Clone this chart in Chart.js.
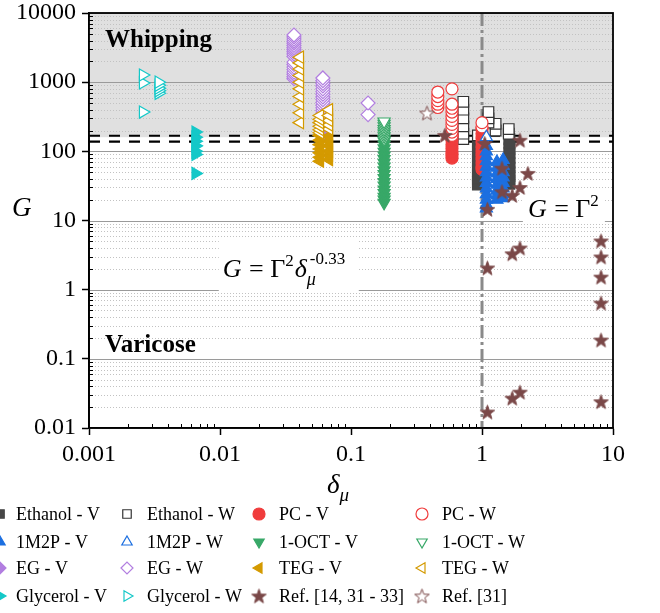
<!DOCTYPE html>
<html>
<head>
<meta charset="utf-8">
<script src="https://cdn.jsdelivr.net/npm/chart.js@4.4.1/dist/chart.umd.min.js"></script>
<style>
html,body{margin:0;padding:0;background:#fff;}
</style>
</head>
<body>
<canvas id="mycanvas" width="660" height="613"></canvas>
<script>
var serif = "'Liberation Serif', 'Times New Roman', serif";

// points are [delta_mu, G]
var ethanolV = [[0.93,140],[0.93,120],[0.93,100],[0.93,85],[0.93,72],[0.93,60],[0.93,52],[0.93,45],[0.93,40],[0.93,36],[0.93,33],
  [1.62,150],[1.62,130],[1.62,110],[1.62,95],[1.62,80],[1.62,68],[1.62,58],[1.62,50],[1.62,44],[1.62,38],[1.62,34]];
var ethanolW = [[0.72,520],[0.72,400],[0.72,300],[0.72,230],[0.72,180],[0.72,150],[0.93,170],
  [1.12,370],[1.12,300],[1.12,260],[1.27,250],[1.27,200],[1.6,210],[1.6,180]];
var pcV = [[0.59,165],[0.59,145],[0.59,125],[0.59,110],[0.59,98],[0.59,88],[0.59,80],
  [1.0,210],[1.0,180],[1.0,155],[1.0,135],[1.0,115],[1.0,100],[1.0,88],[1.0,77],[1.0,68],[1.0,60],[1.0,55]];
var pcW = [[0.46,720],[0.46,620],[0.46,540],[0.46,480],[0.46,430],
  [0.59,800],[0.59,480],[0.59,420],[0.59,370],[0.59,320],[0.59,280],[0.59,245],[0.59,215],[0.59,190],[0.59,170],
  [1.0,260],[1.0,225]];
var m1m2pV = [[1.08,120],[1.08,100],[1.08,85],[1.08,72],[1.08,60],[1.08,50],[1.08,42],[1.08,35],[1.08,29],[1.08,24],[1.08,20],[1.08,17],[1.08,15],
  [1.3,70],[1.3,58],[1.3,48],[1.3,40],[1.3,33],[1.3,27],[1.3,23],[1.3,20],
  [1.45,75],[1.45,62],[1.45,50],[1.45,42],[1.45,35],[1.45,29],[1.45,24],[1.45,21]];
var m1m2pW = [[1.08,160]];
var octV = [[0.179,140],[0.179,125],[0.179,110],[0.179,98],[0.179,87],[0.179,77],[0.179,68],[0.179,60],[0.179,53],
  [0.179,47],[0.179,41],[0.179,36],[0.179,32],[0.179,28],[0.179,25],[0.179,22],[0.179,20],[0.179,18]];
var octW = [[0.179,270],[0.179,250],[0.179,230],[0.179,210],[0.179,195],[0.179,180],[0.179,165],[0.179,150]];
var egV = [[0.063,240],[0.063,200],[0.063,175]];
var egW = [[0.0367,4800],[0.0367,4500],[0.0367,4200],[0.0367,3900],[0.0367,3650],[0.0367,3400],[0.0367,3150],
  [0.0367,2950],[0.0367,2750],[0.0367,2550],[0.0367,2350],[0.0367,1950],[0.0367,1800],[0.0367,1650],
  [0.0367,1520],[0.0367,1400],[0.0367,1300],[0.0367,1200],[0.0367,1120],
  [0.061,1150],[0.061,1050],[0.061,960],[0.061,880],[0.061,800],[0.061,730],[0.061,670],[0.061,610],
  [0.061,560],[0.061,510],[0.061,465],[0.061,425],[0.061,390],[0.061,355],[0.061,325],[0.061,295],
  [0.061,270],[0.061,245],[0.061,225],
  [0.135,500],[0.135,340]];
var tegV = [[0.058,170],[0.058,145],[0.058,125],[0.058,108],[0.058,95],[0.058,82],[0.058,72],
  [0.068,165],[0.068,140],[0.068,120],[0.068,100],[0.068,88],[0.068,76]];
var tegW = [[0.0408,2300],[0.0408,1900],[0.0408,1550],[0.0408,1250],[0.0408,1000],[0.0408,800],[0.0408,620],
  [0.0408,480],[0.0408,360],[0.0408,260],
  [0.058,330],[0.058,290],[0.058,260],[0.058,230],[0.058,205],[0.058,185],
  [0.068,400],[0.068,330],[0.068,280],[0.068,240],[0.068,210]];
var glyV = [[0.0065,190],[0.0065,160],[0.0065,140],[0.0065,120],[0.0065,100],[0.0065,90],[0.0065,48]];
var glyW = [[0.00258,1270],[0.00258,975],[0.00258,370],
  [0.0034,1000],[0.0034,900],[0.0034,820],[0.0034,750],[0.0034,690]];
var refA = [[0.52,170],[1.05,130],[1.95,145],[2.24,48],[1.42,57],[1.42,26],[1.95,30],[1.7,23],[1.1,14.5],
  [1.95,4.0],[1.7,3.3],[1.1,2.06],[1.95,0.033],[1.7,0.027],[1.1,0.017],
  [8.1,5.06],[8.1,2.97],[8.1,1.52],[8.1,0.64],[8.1,0.187],[8.1,0.024]];
var refB = [[0.38,358]];

var xTicks = [0.001, 0.01, 0.1, 1, 10];
var yTicks = [0.01, 0.1, 1, 10, 100, 1000, 10000];
var whipLimit = 160;
var dashLevels = [168, 138];

function makeStar(fill, stroke){
  var c = document.createElement('canvas');
  c.width = 17; c.height = 17;
  var g = c.getContext('2d');
  g.beginPath();
  for (var i = 0; i < 10; i++) {
    var r = i % 2 == 0 ? 7.6 : 3.1;
    var a = -Math.PI / 2 + i * Math.PI / 5;
    var px = 8.5 + r * Math.cos(a), py = 9.2 + r * Math.sin(a);
    if (i == 0) g.moveTo(px, py); else g.lineTo(px, py);
  }
  g.closePath();
  g.fillStyle = fill; g.fill();
  g.strokeStyle = stroke; g.lineWidth = 1; g.stroke();
  return c;
}

function series(label, pts, style, rot, radius, color, filled, order){
  pts = pts.slice().sort(function(a, b){ return a[1] - b[1]; });
  return {
    label: label,
    data: pts.map(function(p){ return {x: p[0], y: p[1]}; }),
    pointStyle: style,
    pointRotation: rot,
    pointRadius: radius,
    pointBackgroundColor: filled ? color : '#fff',
    pointBorderColor: color,
    pointBorderWidth: 1.2,
    showLine: false,
    order: order
  };
}

var cEth = '#474747', cBlue = '#1c6fe0', cEG = '#b27ee0', cGly = '#14c8c8',
    cPC = '#f03c3c', cOct = '#38a868', cTeg = '#d49a00', cRef = '#7a4848';

var datasets = [
  series('Ethanol - V', ethanolV, 'rect', 0, 7.5, cEth, true, 6),
  series('Ethanol - W', ethanolW, 'rect', 0, 7.5, '#333', false, 5),
  series('PC - V', pcV, 'circle', 0, 6, cPC, true, 4),
  series('PC - W', pcW, 'circle', 0, 6, cPC, false, 3),
  series('1M2P - V', m1m2pV, 'triangle', 0, 7, cBlue, true, 2),
  series('1M2P - W', m1m2pW, 'triangle', 0, 7, cBlue, false, 1),
  series('1-OCT - V', octV, 'triangle', 180, 7, cOct, true, 4),
  series('1-OCT - W', octW, 'triangle', 180, 7, cOct, false, 3),
  series('EG - V', egV, 'rectRot', 0, 7, cEG, true, 5),
  series('EG - W', egW, 'rectRot', 0, 7, cEG, false, 6),
  series('TEG - V', tegV, 'triangle', 270, 7, cTeg, true, 4),
  series('TEG - W', tegW, 'triangle', 270, 7, cTeg, false, 3),
  series('Glycerol - V', glyV, 'triangle', 90, 7, cGly, true, 4),
  series('Glycerol - W', glyW, 'triangle', 90, 7, cGly, false, 3),
  series('Ref. [14, 31 - 33]', refA, makeStar(cRef, cRef), 0, 7, cRef, true, 0),
  series('Ref. [31]', refB, makeStar('#fff', cRef), 0, 7, cRef, false, 0)
];

function minorValues(lo, hi){
  var out = [];
  for (var e = Math.log10(lo); e < Math.log10(hi); e++) {
    for (var k = 2; k <= 9; k++) out.push(k * Math.pow(10, e));
  }
  return out;
}

function textRuns(ctx, x, y, runs){
  runs.forEach(function(r){
    ctx.font = r[1];
    ctx.fillText(r[0], x, y + (r[2] || 0));
    x += ctx.measureText(r[0]).width + (r[3] || 0);
  });
  return x;
}

var backPlugin = {
  id: 'back',
  beforeDatasetsDraw: function(chart){
    var ctx = chart.ctx, a = chart.chartArea, xs = chart.scales.x, ys = chart.scales.y;
    ctx.save();
    // whipping region
    var yw = ys.getPixelForValue(whipLimit);
    ctx.fillStyle = '#e0e0e0';
    ctx.fillRect(a.left, a.top, a.right - a.left, yw - a.top);
    // minor grid
    ctx.strokeStyle = '#c2c2c2';
    ctx.lineWidth = 1;
    ctx.setLineDash([1, 2]);
    minorValues(0.01, 10000).forEach(function(v){
      var y = Math.round(ys.getPixelForValue(v)) + 0.5;
      ctx.beginPath(); ctx.moveTo(a.left, y); ctx.lineTo(a.right, y); ctx.stroke();
    });
    // major grid
    ctx.setLineDash([]);
    ctx.strokeStyle = '#9a9a9a';
    yTicks.forEach(function(v){
      var y = Math.round(ys.getPixelForValue(v)) + 0.5;
      ctx.beginPath(); ctx.moveTo(a.left, y); ctx.lineTo(a.right, y); ctx.stroke();
    });
    // threshold lines
    ctx.strokeStyle = '#000';
    ctx.lineWidth = 2.2;
    ctx.setLineDash([11, 9]);
    dashLevels.forEach(function(v){
      var y = ys.getPixelForValue(v);
      ctx.beginPath(); ctx.moveTo(a.left, y); ctx.lineTo(a.right, y); ctx.stroke();
    });
    // delta_mu = 1
    var x1 = xs.getPixelForValue(1);
    ctx.strokeStyle = '#8a8a8a';
    ctx.lineWidth = 3;
    ctx.setLineDash([13, 4, 3, 4]);
    ctx.beginPath(); ctx.moveTo(x1, a.top); ctx.lineTo(x1, a.bottom); ctx.stroke();
    ctx.setLineDash([]);

    // region labels
    ctx.fillStyle = '#000';
    ctx.textBaseline = 'alphabetic';
    ctx.font = 'bold 25px ' + serif;
    ctx.fillText('Whipping', a.left + 16, ys.getPixelForValue(3200));
    ctx.fillText('Varicose', a.left + 16, ys.getPixelForValue(0.125));

    // G = Gamma^2 delta^-0.33
    var it = 'italic 26px ' + serif, rm = '26px ' + serif, sm = '17px ' + serif, ism = 'italic 18px ' + serif;
    var ex = xs.getPixelForValue(0.0105), ey = ys.getPixelForValue(1.55);
    ctx.fillStyle = '#fff';
    ctx.fillRect(ex - 4, ey - 37, 140, 52);
    ctx.fillStyle = '#000';
    textRuns(ctx, ex, ey, [['G', it, 0, 1], [' = \u0393', rm], ['2', sm, -11, 1], ['\u03b4', it], ['\u03bc', ism, 8, -6], ['-0.33', sm, -13]]);
    // G = Gamma^2
    var gx = xs.getPixelForValue(2.24), gy = ys.getPixelForValue(11.2);
    ctx.fillStyle = '#fff';
    ctx.fillRect(gx - 5, gy - 22, 82, 28);
    ctx.fillStyle = '#000';
    textRuns(ctx, gx, gy, [['G', it, 0, 1], [' = \u0393', rm], ['2', sm, -11]]);
    ctx.restore();
  },
  afterDraw: function(chart){
    var ctx = chart.ctx, a = chart.chartArea, xs = chart.scales.x, ys = chart.scales.y;
    ctx.save();
    // minor inner ticks
    ctx.strokeStyle = '#000';
    ctx.lineWidth = 1;
    minorValues(0.01, 10000).forEach(function(v){
      var y = Math.round(ys.getPixelForValue(v)) + 0.5;
      ctx.beginPath(); ctx.moveTo(a.left, y); ctx.lineTo(a.left + 4, y); ctx.stroke();
    });
    minorValues(0.001, 10).forEach(function(v){
      var x = Math.round(xs.getPixelForValue(v)) + 0.5;
      ctx.beginPath(); ctx.moveTo(x, a.bottom); ctx.lineTo(x, a.bottom - 4); ctx.stroke();
    });
    // frame
    ctx.lineWidth = 1.8;
    ctx.strokeRect(a.left, a.top, a.right - a.left, a.bottom - a.top);

    // axis titles
    ctx.fillStyle = '#000';
    ctx.textAlign = 'left';
    ctx.textBaseline = 'alphabetic';
    ctx.font = 'italic 27px ' + serif;
    ctx.fillText('G', 12, 216);
    textRuns(ctx, 327, 493, [['\u03b4', 'italic 27px ' + serif], ['\u03bc', 'italic 19px ' + serif, 8]]);

    // legend, 4 x 4 grid
    var markX = [0, 127, 259, 422], textX = [16, 147, 279, 442], rowY = [514, 542, 568, 596];
    ctx.font = '18px ' + serif;
    ctx.textBaseline = 'middle';
    chart.data.datasets.forEach(function(d, i){
      var col = i % 4, row = Math.floor(i / 4);
      var mx = markX[col], my = rowY[row];
      ctx.fillStyle = d.pointBackgroundColor;
      ctx.strokeStyle = d.pointBorderColor;
      ctx.lineWidth = 1.2;
      Chart.helpers.drawPoint(ctx, {pointStyle: d.pointStyle, rotation: d.pointRotation, radius: 6, borderWidth: 1.2}, mx, my);
      ctx.fillStyle = '#000';
      ctx.fillText(d.label, textX[col], my + 1);
    });
    ctx.restore();
  }
};

var ctx = document.getElementById('mycanvas');
var chart = new Chart(ctx, {
  type: 'scatter',
  data: {datasets: datasets},
  options: {
    responsive: false,
    animation: false,
    events: [],
    layout: {padding: {top: 13, right: 47, left: 0, bottom: 0}},
    plugins: {legend: {display: false}, tooltip: {enabled: false}},
    scales: {
      x: {
        type: 'logarithmic', min: 0.001, max: 10,
        afterFit: function(s){ s.height = 185; s.paddingLeft = 0; s.paddingRight = 0; },
        afterBuildTicks: function(s){ s.ticks = xTicks.map(function(v){ return {value: v}; }); },
        grid: {drawOnChartArea: false, drawTicks: true, tickLength: 7, tickColor: '#000', tickWidth: 1.5},
        border: {color: '#000', width: 1.8},
        ticks: {font: {family: serif, size: 24}, color: '#000', padding: 5, maxRotation: 0, autoSkip: false,
          callback: function(v){ return String(v); }}
      },
      y: {
        type: 'logarithmic', min: 0.01, max: 10000,
        afterFit: function(s){ s.width = 89; s.paddingTop = 0; s.paddingBottom = 0; },
        afterBuildTicks: function(s){ s.ticks = yTicks.map(function(v){ return {value: v}; }); },
        grid: {drawOnChartArea: false, drawTicks: true, tickLength: 7, tickColor: '#000', tickWidth: 1.5},
        border: {color: '#000', width: 1.8},
        ticks: {font: {family: serif, size: 24}, color: '#000', padding: 6, autoSkip: false,
          callback: function(v){ return String(v); }}
      }
    }
  },
  plugins: [backPlugin]
});
</script>
</body>
</html>
